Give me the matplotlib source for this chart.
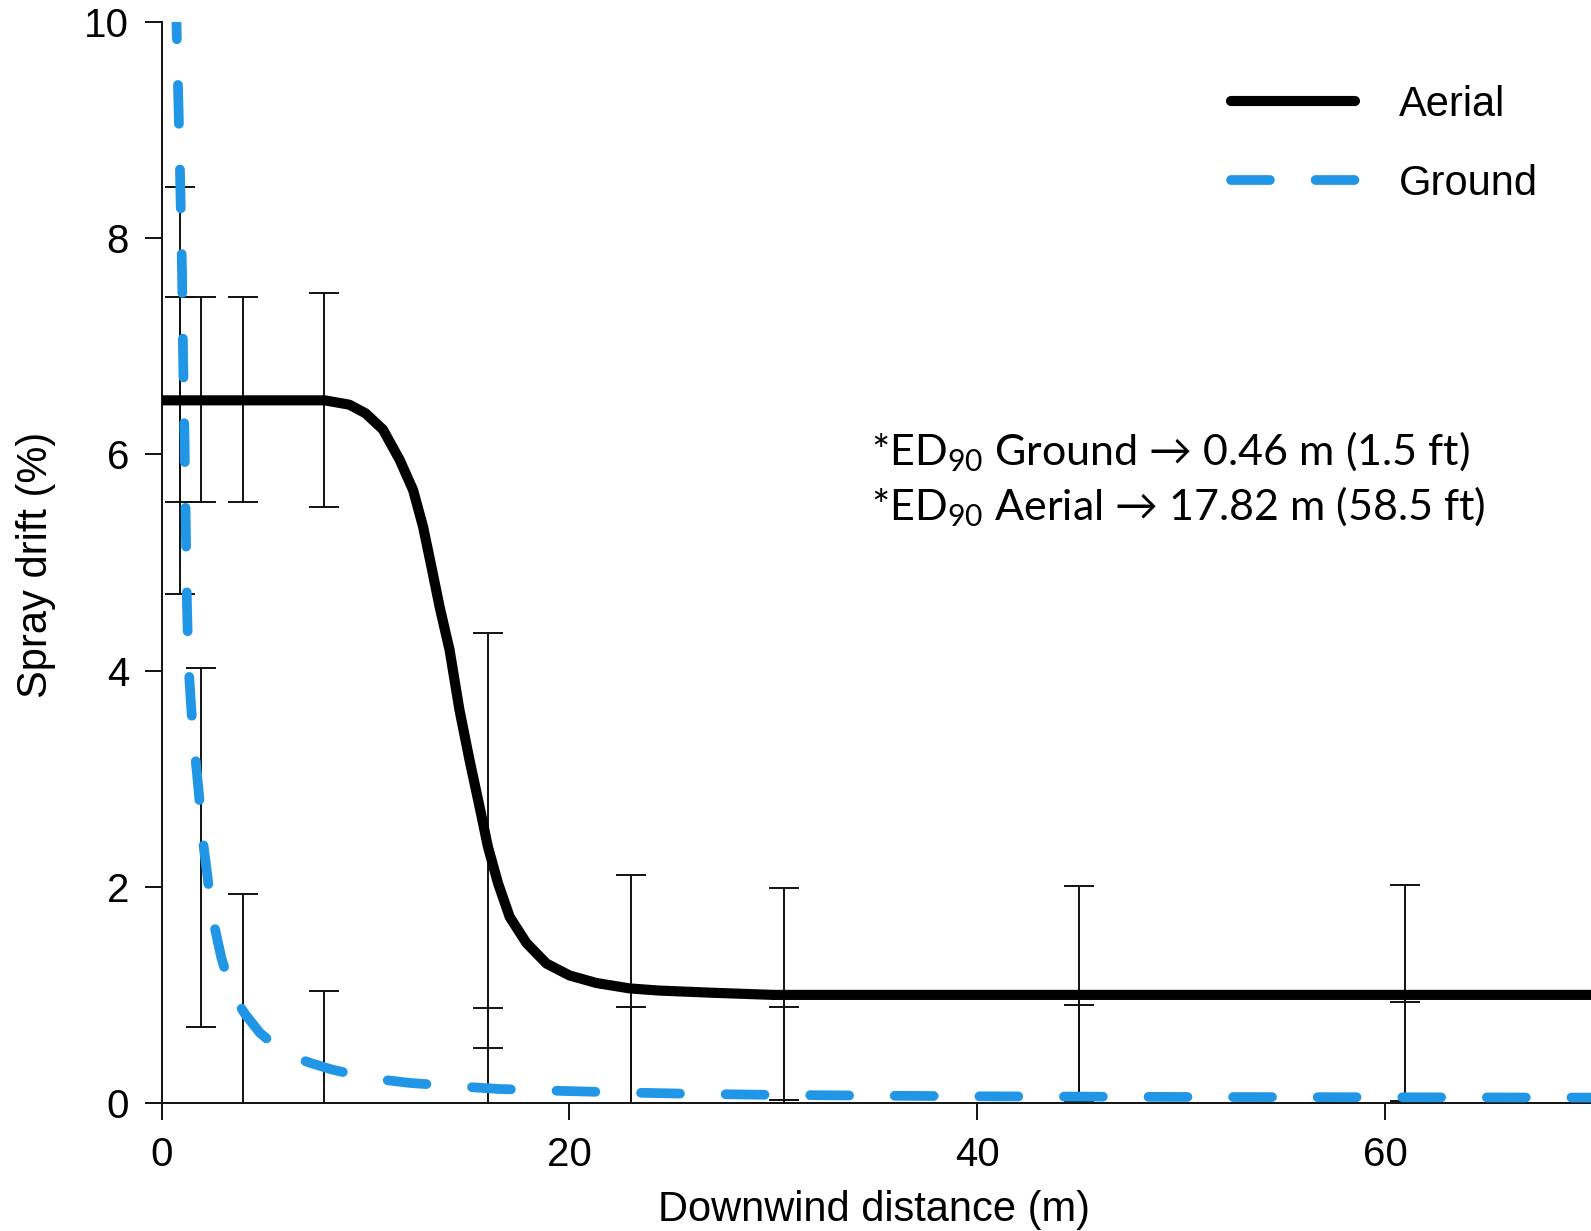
import matplotlib
matplotlib.use("Agg")
import matplotlib.pyplot as plt
import numpy as np

# Fitted drift curves (downwind distance in m, spray drift in %)
aerial_x = [0, 2, 4, 6, 8, 9.2, 10.0, 10.85, 11.67, 12.33, 12.82, 13.23, 13.63,
            14.12, 14.6, 15.1, 15.59, 16.0, 16.5, 17.07, 17.89, 18.87, 20.0,
            21.32, 22.95, 24.4, 27.0, 30.0, 40.0, 50.0, 60.0, 70.1]
aerial_y = [6.5, 6.5, 6.5, 6.5, 6.5, 6.46, 6.38, 6.23, 5.95, 5.67, 5.33, 4.96, 4.59,
            4.19, 3.64, 3.17, 2.74, 2.37, 2.03, 1.72, 1.48, 1.29, 1.18,
            1.11, 1.06, 1.04, 1.02, 1.0, 1.0, 1.0, 1.0, 1.0]

ground_x = [0.70, 0.76, 0.83, 0.92, 1.00, 1.05, 1.12, 1.18, 1.24, 1.32,
            1.46, 1.61, 1.83, 1.95, 2.25, 2.44, 2.93, 3.48, 4.10, 4.81,
            5.50, 6.28, 7.30, 8.34, 10.2, 12.2, 14.5, 16.5, 19.0, 22.0,
            26.0, 30.0, 35.0, 40.0, 50.0, 60.0, 70.1]
ground_y = [10.2, 9.70, 9.18, 8.42, 7.66, 6.90, 6.13, 5.36, 4.60, 4.03,
            3.62, 3.28, 2.85, 2.53, 2.09, 1.76, 1.34, 1.00, 0.82, 0.65,
            0.54, 0.44, 0.37, 0.31, 0.23, 0.185, 0.155, 0.13, 0.115, 0.10,
            0.085, 0.075, 0.068, 0.062, 0.056, 0.053, 0.05]

# Sampling stations and observed ranges (lower / upper limits)
station_x = [0.92, 1.95, 3.97, 7.95, 16.0, 23.0, 30.5, 45.0, 61.0]
aerial_lo = [5.56, 5.56, 5.56, 5.51, 0.51, -0.05, 0.03, 0.015, 0.015]
aerial_hi = [7.46, 7.46, 7.46, 7.49, 4.35, 2.11, 1.99, 2.01, 2.02]
ground_lo = [4.71, 0.70, -0.20, -0.40, -0.60, -0.70, -0.75, -0.80, -0.80]
ground_hi = [8.47, 4.02, 1.93, 1.04, 0.88, 0.89, 0.89, 0.91, 0.93]

x_ticks = [0, 20, 40, 60]
y_ticks = [0, 2, 4, 6, 8, 10]

ed90_lines = ["*ED$_{90}$ Ground $\u2192$ 0.46 m (1.5 ft)",
              "*ED$_{90}$ Aerial $\u2192$ 17.82 m (58.5 ft)"]

plt.rcParams['font.family'] = ['Liberation Sans', 'DejaVu Sans']
plt.rcParams['mathtext.fontset'] = 'custom'
plt.rcParams['mathtext.rm'] = 'Lato'
plt.rcParams['mathtext.it'] = 'Lato:italic'
plt.rcParams['mathtext.bf'] = 'Lato:bold'

W, H = 1591, 1231
fig = plt.figure(figsize=(W / 100, H / 100), dpi=100)
L, R, B, T = 161.7, 1591, 1103, 22
ax = fig.add_axes([L / W, 1 - B / H, (R - L) / W, (B - T) / H])

BLUE = '#2196E6'

def draw_bars(lo, hi):
    lo = np.asarray(lo)
    hi = np.asarray(hi)
    mid = (lo + hi) / 2
    half = (hi - lo) / 2
    ax.errorbar(station_x, mid, yerr=half, fmt='none', ecolor='#111111',
                elinewidth=1.4, capsize=11, capthick=1.4, zorder=2)

draw_bars(aerial_lo, aerial_hi)
draw_bars(ground_lo, ground_hi)

ax.plot(aerial_x, aerial_y, color='black', lw=7.3, solid_capstyle='round',
        solid_joinstyle='round', label='Aerial', zorder=3)
ax.plot(ground_x, ground_y, color=BLUE, lw=7.0, ls=(0, (4.0, 4.7)),
        dash_capstyle='round', dash_joinstyle='round', label='Ground', zorder=4)

ax.set_xlim(0, 70.1)
ax.set_ylim(0, 10)
ax.set_xticks(x_ticks)
ax.set_yticks(y_ticks)
ax.tick_params(direction='out', length=12.5, width=1.4, labelsize=29, pad=11,
               color='#111111')
for side in ('top', 'right'):
    ax.spines[side].set_visible(False)
for side in ('left', 'bottom'):
    ax.spines[side].set_linewidth(1.4)
    ax.spines[side].set_color('#111111')

ax.set_xlabel('Downwind distance (m)', fontsize=30)
ax.xaxis.set_label_coords((874 - L) / (R - L), (B - 1210) / (B - T))
ax.xaxis.label.set_verticalalignment('center')
ax.set_ylabel('Spray drift (%)', fontsize=30)
ax.yaxis.set_label_coords((36.5 - L) / (R - L), (B - 565) / (B - T))
ax.yaxis.label.set_verticalalignment('center')

leg = ax.legend(loc='upper left', bbox_to_anchor=(1231 / W, 1 - 85 / H),
                bbox_transform=fig.transFigure, frameon=False, fontsize=30,
                handlelength=2.97, handletextpad=1.05, labelspacing=0.93,
                borderpad=0, borderaxespad=0)

for i, s in enumerate(ed90_lines):
    fig.text(871 / W, 1 - (465 + 55.5 * i) / H, s, fontsize=31,
             family=['Lato', 'DejaVu Sans'], ha='left', va='baseline')

fig.savefig('out.png', dpi=100)
